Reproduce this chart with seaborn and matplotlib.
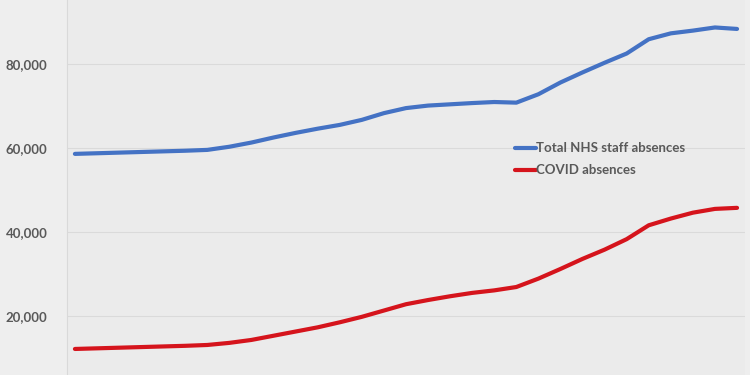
import numpy as np
import pandas as pd
import matplotlib
matplotlib.use("Agg")
import matplotlib.pyplot as plt
import seaborn as sns
from matplotlib.ticker import FuncFormatter

# Daily staff absence figures (31 points)
total_absences = [
    58600, 58750, 58900, 59050, 59200, 59350, 59550, 60300, 61300, 62500,
    63600, 64600, 65500, 66700, 68300, 69500, 70100, 70400, 70700, 70950,
    70800, 72800, 75600, 78000, 80300, 82500, 85900, 87300, 87950, 88700,
    88350,
]
covid_absences = [
    12150, 12300, 12450, 12600, 12750, 12900, 13100, 13600, 14300, 15300,
    16300, 17300, 18500, 19800, 21300, 22800, 23800, 24700, 25500, 26100,
    26900, 28900, 31200, 33600, 35800, 38300, 41600, 43200, 44600, 45500,
    45750,
]
series_names = ["Total NHS staff absences", "COVID absences"]
y_ticks = [20000, 40000, 60000, 80000]

days = np.arange(len(total_absences))
df = pd.DataFrame({
    "day": np.concatenate([days, days]),
    "absences": total_absences + covid_absences,
    "series": [series_names[0]] * len(days) + [series_names[1]] * len(days),
})

sns.set_style("white")
plt.rcParams["font.family"] = ["Lato", "DejaVu Sans"]

fig = plt.figure(figsize=(7.5, 3.75), dpi=100, facecolor="#eeeeee")
ax = fig.add_axes([0.0893, 0.0, 0.904, 1.0])
ax.set_facecolor("#ebebeb")

sns.lineplot(
    data=df, x="day", y="absences", hue="series",
    palette={series_names[0]: "#4472c4", series_names[1]: "#d5141c"},
    linewidth=3.0, ax=ax, legend=True,
)
for line in ax.lines:
    line.set_solid_capstyle("round")
    line.set_solid_joinstyle("round")

ax.set_xlim(-0.36, len(days) - 1 + 0.36)
ax.set_ylim(5950, 95240)
ax.set_yticks(y_ticks)
ax.yaxis.set_major_formatter(FuncFormatter(lambda v, p: f"{int(v):,}"))
ax.set_xticks([])
ax.grid(axis="y", color="#dadada", linewidth=0.8)
ax.tick_params(axis="y", length=0, pad=14, labelsize=9.5, labelcolor="#595959")
for lbl in ax.get_yticklabels():
    lbl.set_fontweight("bold")
ax.set_xlabel("")
ax.set_ylabel("")
for side in ["top", "right", "bottom"]:
    ax.spines[side].set_visible(False)
ax.spines["left"].set_color("#d9d9d9")
ax.spines["left"].set_linewidth(0.8)

leg = ax.legend(
    loc="upper left", bbox_to_anchor=(0.643, 0.652), frameon=False,
    handlelength=1.6, handletextpad=0.0, labelspacing=0.75,
    prop={"size": 9.5, "weight": "bold"},
)
for t in leg.get_texts():
    t.set_color("#595959")

fig.savefig("out.png", dpi=100, facecolor=fig.get_facecolor())
plt.close(fig)
